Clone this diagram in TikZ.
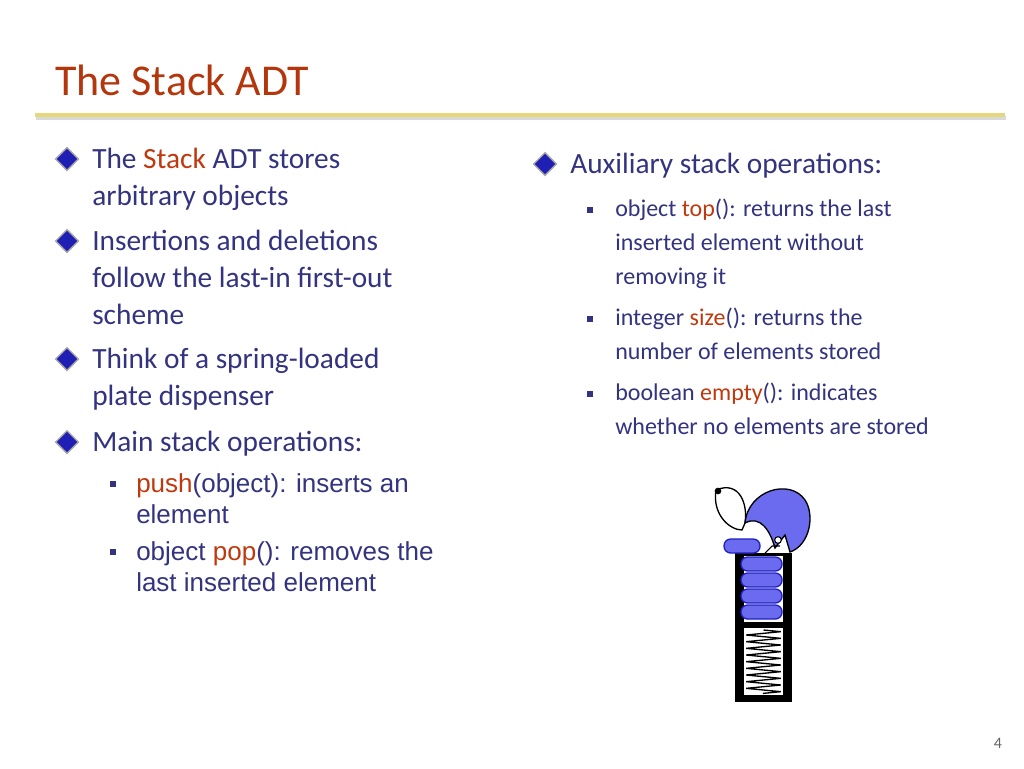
\documentclass[tikz,border=0pt]{standalone}
\usepackage{fontspec}
\setmainfont{Carlito}
\newfontfamily\arialfont{Liberation Sans}
\usetikzlibrary{decorations.pathmorphing}
\definecolor{txtblue}{HTML}{333380}
\definecolor{titlered}{HTML}{B3360D}
\definecolor{kwred}{HTML}{C0390E}
\definecolor{rulegold}{HTML}{E6D87A}
\definecolor{platefill}{HTML}{6B6BF0}
\definecolor{platedraw}{HTML}{2020C0}
\newcommand{\kw}[1]{\textcolor{kwred}{#1}}
\newcommand{\lines}[1]{\parbox[t]{400pt}{\raggedright #1}}
\begin{document}
\begin{tikzpicture}[x=0.75pt,y=-0.75pt]
\tikzstyle{diam}=[draw=black!35,fill=txtblue!60!blue,line width=1pt,rotate=45,minimum size=12pt,inner sep=0pt]
\tikzstyle{sq}=[fill=txtblue,minimum size=5pt,inner sep=0pt]
\tikzstyle{item}=[anchor=base west,inner sep=0pt,text=txtblue,font=\fontsize{22}{27.8}\selectfont]
\tikzstyle{sitem}=[item,font=\arialfont\fontsize{19.5}{23.3}\selectfont]
\tikzstyle{ritem}=[item,font=\fontsize{18}{25.5}\selectfont]
\tikzstyle{plate}=[draw=platedraw,fill=platefill,line width=1pt,rounded corners=5pt]
\useasboundingbox (0,0) rectangle (1024,768);
\fill[white] (0,0) rectangle (1024,768);
% title
\node[anchor=base west,inner sep=0pt,text=titlered,font=\fontsize{33}{40}\selectfont] (title) at (55,95) {The Stack ADT};
\draw[black!15,line width=3pt] (36,118) -- (1006,118);
\draw[rulegold,line width=3.5pt] (35,115) -- (1005,115);
% left column
\foreach \y/\name/\txt in {168/i1/{The \kw{Stack} ADT stores\\arbitrary objects},
  250/i2/{Insertions and deletions\\follow the last-in first-out\\scheme},
  368/i3/{Think of a spring-loaded\\plate dispenser},
  451/i4/{Main stack operations:}} {
  \node[diam] (d\name) at (67,\y-9) {};
  \node[item] (\name) at (92,\y) {\lines{\txt}};
}
\foreach \y/\name/\txt in {492/s1/{\kw{push}(object): inserts an\\element},
  560/s2/{object \kw{pop}(): removes the\\last inserted element}} {
  \node[sq] (q\name) at (113,\y-8) {};
  \node[sitem] (\name) at (136,\y) {\lines{\txt}};
}
% right column
\node[diam] (dr) at (545,164) {};
\node[item] (r1) at (570,173) {Auxiliary stack operations:};
\foreach \y/\name/\txt in {216/t1/{object \kw{top}(): returns the last\\inserted element without\\removing it},
  325/t2/{integer \kw{size}(): returns the\\number of elements stored},
  400/t3/{boolean \kw{empty}(): indicates\\whether no elements are stored}} {
  \node[sq] (q\name) at (590,\y-6) {};
  \node[ritem] (\name) at (615,\y) {\lines{\txt}};
}
% dispenser
\fill[black] (735,553) rectangle (792,702);
\fill[white] (744,556) rectangle (783,695);
\fill[black] (744,622) rectangle (783,628);
\draw[black,line width=1pt,decorate,decoration={zigzag,segment length=5pt,amplitude=13pt}] (763.5,630) -- (763.5,694);
\foreach \y in {557,573,589,605}
  \draw[plate] (741,\y) rectangle (782,\y+14);
\draw[plate] (724,539) rectangle (760,553);
\draw[black,line width=1pt,fill=white] (716,490) .. controls (740,480) and (748,505) .. (745,523) -- (742,530) .. controls (730,530) and (712,515) .. (716,490);
\fill[black] (718,491) circle (2.5pt);
\draw[black,line width=1pt,fill=platefill] (745,523) .. controls (748,490) and (790,478) .. (805,500) .. controls (815,515) and (810,545) .. (790,552) -- (785,535) -- (775,548) .. controls (770,530) and (760,515) .. (745,523);
\draw[black,line width=0.8pt] (765,553) -- (772,546) -- (780,546);
\draw[black,line width=0.8pt,fill=white] (778,540) circle (2.5pt);
% page number
\node[anchor=base,text=black!60,font=\fontsize{12}{14}\selectfont] (pg) at (998,748) {4};
\end{tikzpicture}
\end{document}
